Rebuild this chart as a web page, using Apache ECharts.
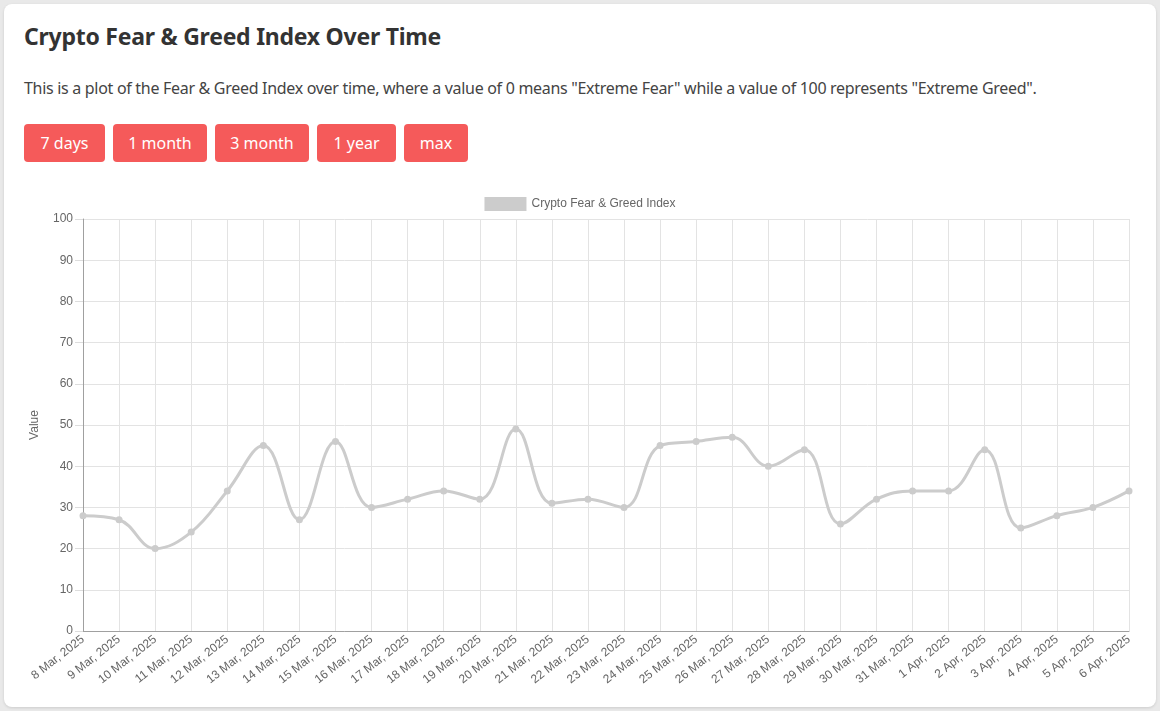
<!DOCTYPE html>
<html>
<head>
<meta charset="utf-8">
<script src="https://cdn.jsdelivr.net/npm/echarts@6/dist/echarts.min.js"></script>
<style>
html,body{margin:0;padding:0;width:1160px;height:711px;background:#e9e9e9;overflow:hidden;font-family:"Noto Sans","Open Sans",sans-serif;}
.card{position:absolute;left:4px;top:4px;width:1152px;height:703px;background:#fff;border-radius:8px;box-shadow:0 1px 3px rgba(0,0,0,0.12);}
h1{position:absolute;left:20px;top:16px;margin:0;font-size:23px;font-weight:700;color:#333;letter-spacing:-0.25px;}
p{position:absolute;left:20px;top:73px;margin:0;font-size:16px;color:#444;letter-spacing:-0.3px;}
.btns{position:absolute;left:20px;top:120px;}
.btn{position:absolute;top:0;height:38px;line-height:38px;background:#f55a5a;color:#fff;border-radius:4px;text-align:center;font-size:16px;}
#chart{position:absolute;left:0;top:180px;width:1160px;height:531px;}
</style>
</head>
<body>
<div class="card">
<h1>Crypto Fear &amp; Greed Index Over Time</h1>
<p>This is a plot of the Fear &amp; Greed Index over time, where a value of 0 means "Extreme Fear" while a value of 100 represents "Extreme Greed".</p>
<div class="btns">
<div class="btn" style="left:0;width:81px;">7 days</div>
<div class="btn" style="left:89px;width:94px;">1 month</div>
<div class="btn" style="left:191px;width:94px;">3 month</div>
<div class="btn" style="left:293px;width:79px;">1 year</div>
<div class="btn" style="left:380px;width:64px;">max</div>
</div>
</div>
<div id="chart"></div>
<script>
const categories = ["8 Mar, 2025","9 Mar, 2025","10 Mar, 2025","11 Mar, 2025","12 Mar, 2025","13 Mar, 2025","14 Mar, 2025","15 Mar, 2025","16 Mar, 2025","17 Mar, 2025","18 Mar, 2025","19 Mar, 2025","20 Mar, 2025","21 Mar, 2025","22 Mar, 2025","23 Mar, 2025","24 Mar, 2025","25 Mar, 2025","26 Mar, 2025","27 Mar, 2025","28 Mar, 2025","29 Mar, 2025","30 Mar, 2025","31 Mar, 2025","1 Apr, 2025","2 Apr, 2025","3 Apr, 2025","4 Apr, 2025","5 Apr, 2025","6 Apr, 2025"];
const values = [28,27,20,24,34,45,27,46,30,32,34,32,49,31,32,30,45,46,47,40,44,26,32,34,34,44,25,28,30,34];
const seriesName = "Crypto Fear & Greed Index";
const yAxisName = "Value";

const chart = echarts.init(document.getElementById('chart'), null, {renderer:'canvas'});
const font = '"Liberation Sans", Arial, Helvetica, sans-serif';
chart.setOption({
  animation:false,
  textStyle:{fontFamily:font},
  legend:{
    top:12, left:'center',
    itemWidth:42, itemHeight:14, itemGap:10,
    icon:'rect',
    textStyle:{color:'#666',fontSize:12,fontFamily:font},
    data:[{name:seriesName,itemStyle:{color:'#cccccc'}}]
  },
  grid:{left:83,right:31,top:39,bottom:80,containLabel:false},
  xAxis:{
    type:'category',
    data:categories,
    boundaryGap:false,
    axisLine:{show:true,lineStyle:{color:'#a0a0a0',width:1}},
    axisTick:{show:false},
    axisLabel:{interval:0,rotate:38,color:'#666',fontSize:12,margin:7,fontFamily:font},
    splitLine:{show:true,lineStyle:{color:'#e3e3e3',width:1}}
  },
  yAxis:{
    type:'value',
    min:0,max:100,interval:10,
    name:yAxisName,
    nameLocation:'middle',
    nameGap:42,
    nameTextStyle:{color:'#666',fontSize:12,fontFamily:font},
    axisLine:{show:true,lineStyle:{color:'#a0a0a0',width:1}},
    axisTick:{show:true,length:8,lineStyle:{color:'#ddd'}},
    axisLabel:{color:'#666',fontSize:12,margin:10,fontFamily:font},
    splitLine:{show:true,lineStyle:{color:'#e3e3e3',width:1}}
  },
  series:[{
    name:seriesName,
    type:'line',
    data:values,
    smooth:0.4,
    symbol:'circle',
    symbolSize:7,
    showAllSymbol:true,
    lineStyle:{color:'#cccccc',width:3},
    itemStyle:{color:'#cccccc'}
  }]
});
</script>
</body>
</html>
